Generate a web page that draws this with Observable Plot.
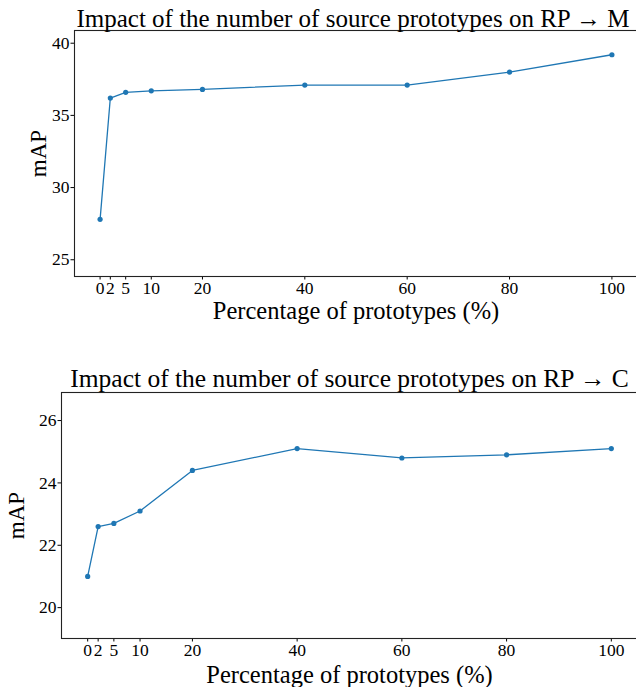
<!DOCTYPE html>
<html>
<head>
<meta charset="utf-8">
<script src="https://cdn.jsdelivr.net/npm/d3@7"></script>
<script src="https://cdn.jsdelivr.net/npm/@observablehq/plot@0.6"></script>
<style>
  html, body { margin: 0; padding: 0; background: #fff; overflow: hidden; width: 636px; height: 687px; }
  #wrap { width: 636px; overflow: hidden; }
  #wrap svg { display: block; overflow: visible; max-width: none !important; }
  #wrap svg text { font-family: "Liberation Serif", "Times New Roman", serif !important; }
</style>
</head>
<body>
<div id="wrap"></div>
<script>
// Data
const percentages = [0, 2, 5, 10, 20, 40, 60, 80, 100];
const mapRPtoM = [27.8, 36.2, 36.6, 36.7, 36.8, 37.1, 37.1, 38.0, 39.2];
const mapRPtoC = [21.0, 22.6, 22.7, 23.1, 24.4, 25.1, 24.8, 24.9, 25.1];
const xTicks = [0, 2, 5, 10, 20, 40, 60, 80, 100];
const yTicksM = [25, 30, 35, 40];
const yTicksC = [20, 22, 24, 26];
const titleM = "Impact of the number of source prototypes on RP \u2192 M";
const titleC = "Impact of the number of source prototypes on RP \u2192 C";
const xLabel = "Percentage of prototypes (%)";
const yLabel = "mAP";

const FONT = "Liberation Serif, Times New Roman, serif";
const BLUE = "#1f77b4";

function panel({values, yDomain, yTicks, title, titleSize, titleDx, height, marginTop, marginBottom, marginLeft, yLabelDx, xLabelDy, titleDy}) {
  const data = percentages.map((p, i) => ({p, v: values[i]}));
  return Plot.plot({
    width: 640,
    height,
    marginTop,
    marginBottom,
    marginLeft,
    marginRight: 3,
    style: {fontFamily: FONT, background: "white", color: "black", maxWidth: "none"},
    x: {domain: [-5, 105]},
    y: {domain: yDomain},
    marks: [
      Plot.axisX({ticks: xTicks, tickSize: 3.5, tickPadding: 2, fontSize: 17.5, label: null, tickFormat: d => String(d), fontFamily: FONT}),
      Plot.axisY({ticks: yTicks, tickSize: 3.5, tickPadding: 1.5, fontSize: 17.5, label: null, fontFamily: FONT}),
      Plot.frame({stroke: "#222", strokeWidth: 1.1}),
      Plot.line(data, {x: "p", y: "v", stroke: BLUE, strokeWidth: 1.3}),
      Plot.dot(data, {x: "p", y: "v", fill: BLUE, r: 2.6}),
      Plot.text([title], {frameAnchor: "top", dx: titleDx, dy: titleDy, lineAnchor: "bottom", fontSize: titleSize, fill: "black", fontFamily: FONT}),
      Plot.text([xLabel], {frameAnchor: "bottom", dy: xLabelDy, lineAnchor: "bottom", fontSize: 24.5, fill: "black", fontFamily: FONT}),
      Plot.text([yLabel], {frameAnchor: "left", dx: yLabelDx, rotate: -90, textAnchor: "middle", lineAnchor: "middle", fontSize: 23, fill: "black", fontFamily: FONT})
    ]
  });
}

const wrap = document.getElementById("wrap");
wrap.appendChild(panel({
  values: mapRPtoM, yDomain: [23.84, 40.88], yTicks: yTicksM, title: titleM, titleSize: 25, titleDx: -3,
  height: 340, marginTop: 30, marginBottom: 64, marginLeft: 74, yLabelDx: -36, xLabelDy: 42, titleDy: -4
}));
wrap.appendChild(panel({
  values: mapRPtoC, yDomain: [19.01, 26.9], yTicks: yTicksC, title: titleC, titleSize: 25.5, titleDx: 0,
  height: 347, marginTop: 52, marginBottom: 49, marginLeft: 61, yLabelDx: -44.5, xLabelDy: 44.5, titleDy: -6
}));
</script>
</body>
</html>
